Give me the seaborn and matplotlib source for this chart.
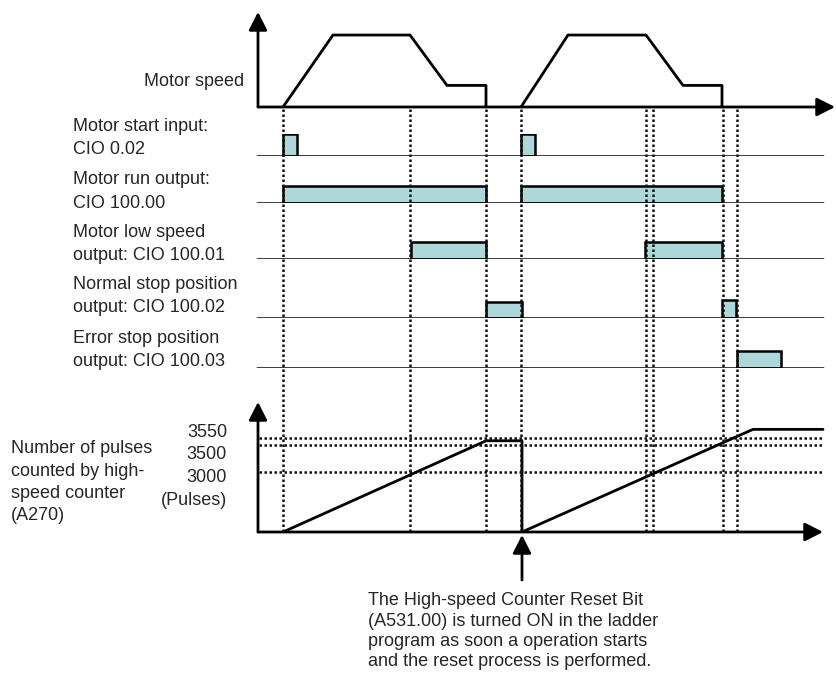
import numpy as np
import matplotlib
matplotlib.use("Agg")
import matplotlib.pyplot as plt
import seaborn as sns

# timing diagram of a two-cycle positioning run (time in arbitrary units)
speed_t1 = [25, 75, 152, 189, 228, 228]
speed_t2 = [263, 310, 388, 425, 464, 464]
speed_v = [0, 100, 100, 30, 30, 0]

start_on, start_off = [25, 263], [39, 277]
run_on, run_off = [25, 263], [228, 464]
low_on, low_off = [153, 387], [228, 464]
normal_on, normal_off = [228, 464], [264, 478]
error_on, error_off = [479], [523]
start_lvl = [1.15, 1.15]
run_lvl = [1.0, 1.0]
low_lvl = [1.0, 1.0]
normal_lvl = [0.95, 1.1]
error_lvl = [1.0]

count_t1 = [25, 228, 264, 264]
count_v1 = [0, 3530, 3530, 0]
count_t2 = [264, 495, 565]
count_v2 = [0, 3610, 3610]
count_levels = [3000, 3500, 3550]
count_labels = ["3550", "3500", "3000", "(Pulses)"]

event_t = [25, 152, 228, 263, 388, 395, 465, 479]

signal_names = [
    ["Motor start input:", "CIO 0.02"],
    ["Motor run output:", "CIO 100.00"],
    ["Motor low speed", "output: CIO 100.01"],
    ["Normal stop position", "output: CIO 100.02"],
    ["Error stop position", "output: CIO 100.03"],
]
count_name = ["Number of pulses", "counted by high-", "speed counter", "(A270)"]
note = ["The High-speed Counter Reset Bit",
        "(A531.00) is turned ON in the ladder",
        "program as soon a operation starts",
        "and the reset process is performed."]

sns.set_style("white")
plt.rcParams["font.family"] = ["Liberation Sans", "DejaVu Sans"]

W, H = 836, 673
XLIM = (-258, 578)
fig = plt.figure(figsize=(W / 100, H / 100), dpi=100)

def band(top, bottom):
    return [0, 1 - bottom / H, 1, (bottom - top) / H]

def clean(ax):
    ax.set_xlim(*XLIM)
    ax.axis("off")
    ax.patch.set_alpha(0)

def arrow(ax, x0, y0, x1, y1):
    ax.annotate("", xy=(x1, y1), xytext=(x0, y0),
                arrowprops=dict(arrowstyle="-|>,head_length=0.55,head_width=0.28",
                                lw=2.0, color="black", mutation_scale=20,
                                shrinkA=0, shrinkB=0), annotation_clip=False)

LW = 2.0
DOT = dict(lw=1.8, linestyles=(0, (1, 1)))
teal = "#aed7da"

# motor speed
ax_s = fig.add_axes(band(12, 107))
clean(ax_s)
ax_s.set_ylim(0, 132)
for t in (speed_t1, speed_t2):
    sns.lineplot(x=t, y=speed_v, sort=False, estimator=None, color="black",
                 lw=LW, ax=ax_s, legend=False)
arrow(ax_s, 0, 0, 0, 132)
arrow(ax_s, 0, 0, 577, 0)
ax_s.axis("off")

# on/off signals
rows = [(156, 22, start_on, start_off, start_lvl),
        (203, 19, run_on, run_off, run_lvl),
        (259, 19, low_on, low_off, low_lvl),
        (318, 19, normal_on, normal_off, normal_lvl),
        (368, 19, error_on, error_off, error_lvl)]
for base, h, on, off, lvl in rows:
    ax = fig.add_axes(band(base - h, base))
    clean(ax)
    ax.set_ylim(0, 1.15)
    ax.bar(on, lvl, width=np.subtract(off, on), align="edge",
           color=teal, edgecolor="black", lw=1.8, zorder=2)
    ax.plot([-1, 565], [0, 0], color="black", lw=1.8, zorder=3)

# pulse count, schematic (non-linear) vertical scale
knots_v = [0, 3000, 3500, 3550, 3800]
knots_px = [0, 60, 87, 94, 130]
fwd = lambda v: np.interp(v, knots_v, knots_px)
inv = lambda p: np.interp(p, knots_px, knots_v)
ax_c = fig.add_axes(band(402, 532))
clean(ax_c)
ax_c.set_yscale("function", functions=(fwd, inv))
ax_c.set_ylim(0, 3800)
ax_c.hlines(count_levels, 1, 564, colors="#111111", **DOT)
sns.lineplot(x=count_t1, y=count_v1, sort=False, estimator=None, color="black",
             lw=LW, ax=ax_c, legend=False)
sns.lineplot(x=count_t2, y=count_v2, sort=False, estimator=None, color="black",
             lw=LW, ax=ax_c, legend=False)
arrow(ax_c, 0, 0, 0, 3800)
arrow(ax_c, 0, 0, 565, 0)
ax_c.axis("off")

# event markers through every row
ov = fig.add_axes([0, 0, 1, 1])
clean(ov)
ov.set_ylim(H, 0)
ov.vlines(event_t, 109, 531, colors="#111111", **DOT)
arrow(ov, 264, 580, 264, 535)

def txt(x, y, s, ha="left"):
    fig.text(x / W, 1 - y / H, s, ha=ha, va="baseline", fontsize=13)

txt(244, 86, "Motor speed", ha="right")
label_base = [131, 184, 237, 289, 343]
for y0, lines in zip(label_base, signal_names):
    for i, s in enumerate(lines):
        txt(73, y0 + i * 23.5, s)
for i, s in enumerate(count_name):
    txt(11, 453 + i * 22.5, s)
for y, s in zip([437, 459, 482, 505], count_labels):
    txt(227, y, s, ha="right")
for i, s in enumerate(note):
    txt(368, 605 + i * 20.5, s)

fig.savefig("out.png", dpi=100)
